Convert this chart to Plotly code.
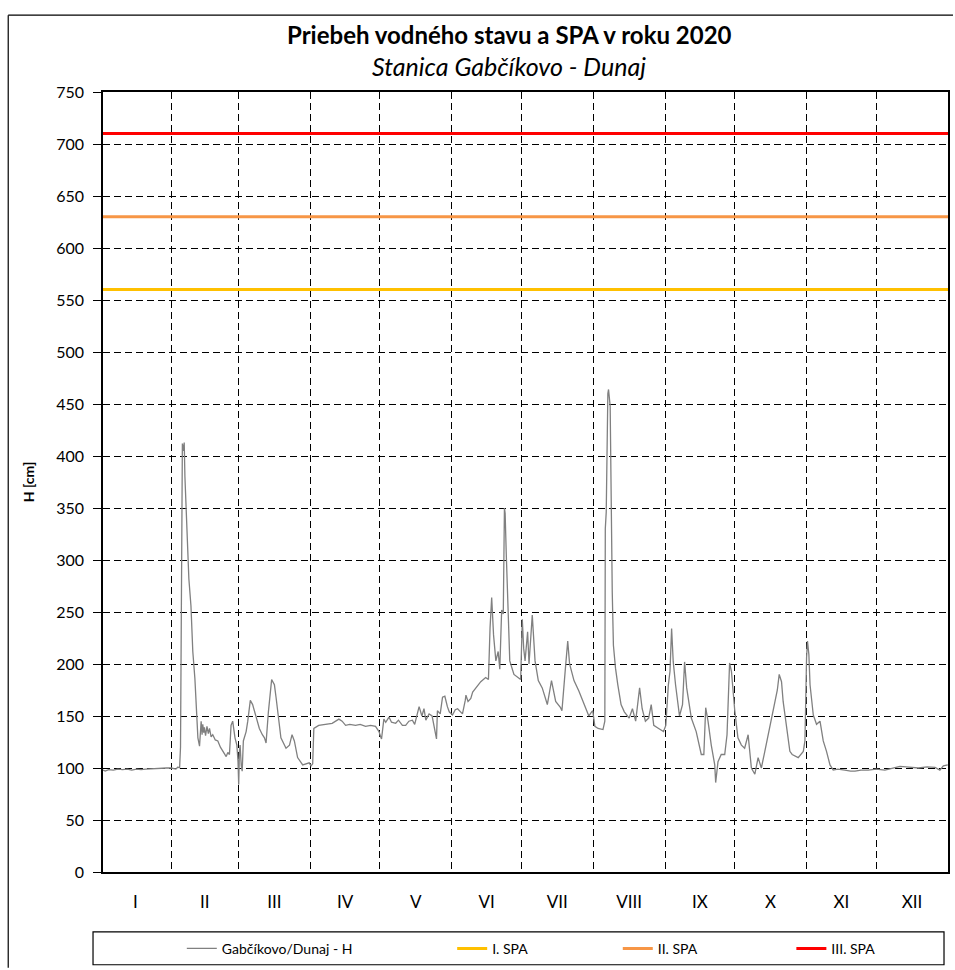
import pandas as pd
import plotly.graph_objects as go

# ---------------- data ----------------
# day offset from 2020-01-01 00:00 (fractional days) and water level H [cm]
h_day = [
    1.6, 2.5, 4, 6, 8, 10, 12, 14, 16, 18, 20, 23, 26, 29, 31, 33, 33.9, 34.6,
    35.0, 35.3, 35.8, 36.2, 36.6, 36.9, 37.2, 37.7, 38.6, 39.5, 40.3, 41.2, 41.8,
    42.5, 43.2, 43.9, 44.3, 44.6, 45.0, 45.3, 45.8, 46.4, 47.0, 47.5, 48.2, 48.9,
    50.0, 51.1, 52.2, 53.2, 54.0, 54.7, 55.4, 56.1, 56.8, 57.5, 58.5, 59.3, 59.8,
    60.1, 60.4, 60.7, 61.2, 61.6, 62.1, 63.3, 64.0, 65.1, 66.1, 67.6, 69.0, 70.3,
    71.2, 71.9, 72.9, 74.3, 75.5, 76.2, 76.9, 78.3, 80.5, 82.0, 83.1, 84.1, 85.5,
    87.7, 90.5, 91.3, 92.0, 92.5, 94.6, 97.0, 100.4, 103.3, 104.7, 106.2, 108.0,
    110.5, 112.5, 114.8, 117.0, 119.1, 120.6, 121.3, 121.7, 122.7, 123.5, 124.9,
    126.0, 127.8, 129.0, 130.7, 132.1, 133.5, 135.0, 136.0, 137.9, 139.1, 140.0,
    140.8, 142.2, 143.5, 145.1, 145.4, 145.8, 147.0, 148.0, 149.0, 150.1, 150.9,
    152.3, 153.5, 154.5, 155.9, 156.6, 157.8, 158.1, 159.0, 160.2, 161.0, 162.3,
    164.5, 166.6, 167.8, 168.5, 169.2, 170.0, 171.0, 172.0, 172.7, 173.5, 174.2,
    174.7, 175.0, 175.5, 176.4, 177.0, 178.8, 181.7, 182.4, 183.0, 183.6, 184.7,
    185.3, 186.7, 187.9, 189.3, 191.0, 193.2, 195.0, 196.8, 198.9, 199.5, 201.0,
    202.0, 202.8, 204.7, 206.8, 209.7, 211.1, 212.3, 212.8, 213.7, 215.1, 217.2,
    218.0, 218.2, 218.6, 219.3, 219.6, 220.3, 220.7, 221.2, 221.7, 222.6, 223.6,
    225.0, 226.4, 228.5, 229.9, 231.3, 233.0, 234.1, 235.5, 236.9, 238.0, 239.1,
    241.2, 243.3, 244.3, 245.4, 246.1, 246.8, 247.5, 248.5, 250.2, 251.5, 252.4,
    253.3, 255.3, 257.4, 259.6, 260.7, 261.5, 262.5, 263.9, 265.4, 265.8, 266.8,
    268.2, 269.7, 270.7, 271.8, 272.6, 274.0, 275.4, 276.9, 278.3, 279.8, 281.2,
    282.7, 284.1, 285.5, 287.0, 288.4, 289.9, 291.3, 292.4, 293.2, 294.2, 294.9,
    296.4, 297.8, 298.8, 301.4, 303.6, 304.3, 305.0, 305.4, 306.0, 306.5, 307.9,
    309.3, 310.8, 312.2, 313.6, 315.1, 316.5, 318.5, 321.5, 324.0, 325.9, 328.5,
    331.6, 335.0, 338.8, 342.0, 345.3, 348.0, 353.2, 357.0, 360.4, 362.5, 364.0,
    365.9,
]
h_val = [
    98, 97, 98.5, 98, 99, 98.5, 99, 98, 99, 98.5, 99, 99.5, 99.5, 100, 100, 99, 101, 100,
    120, 250, 412, 405, 413, 380, 362, 317, 282, 256, 212, 186, 157,
    129, 121, 145, 132, 142, 134, 139, 131, 140, 133, 138, 130, 132,
    127, 126, 120, 116, 113, 111, 115, 113, 141, 145, 129, 122, 106,
    84, 115, 122, 102, 97, 126, 135, 145, 165, 161, 148, 138, 132,
    129, 124, 154, 185, 180, 168, 154, 129, 119, 122, 132, 126, 110,
    103, 105, 102, 104, 138, 141, 142, 143, 147, 145, 141, 142,
    141, 142, 140, 141, 140, 135, 130, 128, 147, 144, 149,
    144, 143, 146, 141, 141, 145, 146, 142, 159, 150, 157,
    146, 152, 150, 131, 128, 155, 152, 168, 169, 159, 154,
    151, 156, 157, 154, 152, 165, 170, 164, 167, 173, 177,
    183, 187, 185, 235, 264, 228, 203, 212, 195, 252, 248,
    350, 345, 305, 231, 203, 190, 185, 243, 215, 203, 231,
    200, 247, 203, 184, 177, 161, 184, 164, 158, 155, 196,
    222, 200, 184, 174, 158, 150, 154, 155, 140, 138, 137,
    145, 330, 346, 460, 464, 448, 349, 269, 218, 196, 180,
    161, 154, 148, 157, 145, 177, 157, 145, 148, 161, 141,
    138, 135, 141, 180, 193, 234, 202, 180, 150, 161, 202,
    177, 148, 135, 113, 113, 158, 145, 122, 103, 86, 106,
    113, 113, 132, 201, 193, 156, 129, 122, 119, 132, 100,
    94, 110, 100, 116, 132, 148, 164, 175, 190, 183, 164,
    138, 116, 113, 110, 116, 126, 206, 222, 209, 180, 151,
    142, 145, 126, 116, 103, 98, 99, 98, 97, 97, 98,
    98, 99, 98, 100, 101.5, 101, 100, 101, 100.6, 98, 102,
    103,
]

spa_names = ["I. SPA", "II. SPA", "III. SPA"]
spa_levels = [560, 630, 710]
spa_colors = ["#FFC000", "#F79646", "#FF0000"]

month_labels = ["I", "II", "III", "IV", "V", "VI", "VII", "VIII", "IX", "X", "XI", "XII"]
series_name = "Gabčíkovo/Dunaj - H"

# ---------------- build ----------------
start = pd.Timestamp("2020-01-01")
end = pd.Timestamp("2021-01-01")
h_time = [start + pd.Timedelta(days=d) for d in h_day]
month_starts = pd.date_range(start, end, freq="MS")
month_mids = [month_starts[i] + (month_starts[i + 1] - month_starts[i]) / 2 for i in range(12)]
x_range = [start + pd.Timedelta(days=1.57), end]

FONT = "Lato, 'Liberation Sans', Arial, sans-serif"

fig = go.Figure()
fig.add_trace(go.Scatter(
    x=h_time, y=h_val, mode="lines", name=series_name,
    line=dict(color="#808080", width=1.3), legend="legend", showlegend=True,
))
legend_ids = ["legend2", "legend3", "legend4"]
for name, lvl, col, lg in zip(spa_names, spa_levels, spa_colors, legend_ids):
    fig.add_trace(go.Scatter(
        x=[start, end], y=[lvl, lvl], mode="lines", name=name,
        line=dict(color=col, width=3), legend=lg, showlegend=True,
    ))

W, H = 955, 970
ML, MR, MT, MB = 103, 5, 92, 96
pw, ph = W - ML - MR, H - MT - MB


def px(xp):
    return (xp - ML) / pw


def py(yp):
    return (H - MB - yp) / ph


leg_common = dict(orientation="h", bgcolor="rgba(0,0,0,0)", borderwidth=0,
                  font=dict(family=FONT, size=14, color="#000"),
                  xanchor="left", yanchor="middle", y=py(951), itemwidth=30)

fig.update_layout(
    width=W, height=H,
    showlegend=True,
    margin=dict(l=ML, r=MR, t=MT, b=MB),
    paper_bgcolor="white", plot_bgcolor="white",
    font=dict(family=FONT, color="#000"),
    legend=dict(**leg_common, x=px(182)),
    legend2=dict(**leg_common, x=px(453)),
    legend3=dict(**leg_common, x=px(619)),
    legend4=dict(**leg_common, x=px(793)),
    xaxis=dict(
        type="date", range=x_range,
        tickmode="array", tickvals=month_mids, ticktext=month_labels,
        ticks="", ticklabelstandoff=14,
        tickfont=dict(family=FONT, size=17, color="#000"),
        showgrid=False,
        minor=dict(tickmode="array", tickvals=list(month_starts), showgrid=True,
                   gridcolor="#000", gridwidth=1.2, griddash="7px,4px", ticks=""),
        showline=True, linecolor="#000", linewidth=1.5, mirror=True,
        zeroline=False,
    ),
    yaxis=dict(
        range=[0, 750], tickvals=list(range(0, 751, 50)),
        showgrid=True, gridcolor="#000", gridwidth=1.2, griddash="7px,4px",
        showline=True, linecolor="#000", linewidth=1.5, mirror=True,
        ticks="outside", ticklen=8, tickcolor="#000", tickwidth=1.2,
        ticklabelstandoff=6,
        tickfont=dict(family=FONT, size=16, color="#000"),
        zeroline=False,
        title=dict(text="<b>H [cm]</b>", font=dict(family=FONT, size=14, color="#000"), standoff=18),
    ),
    annotations=[
        dict(text="<b>Priebeh vodného stavu a SPA v roku 2020</b>", xref="paper", yref="paper",
             x=px(510), y=py(34), xanchor="center", yanchor="middle", showarrow=False,
             font=dict(family=FONT, size=24, color="#000")),
        dict(text="<i>Stanica Gabčíkovo - Dunaj</i>", xref="paper", yref="paper",
             x=px(510), y=py(66), xanchor="center", yanchor="middle", showarrow=False,
             font=dict(family=FONT, size=25, color="#000")),
    ],
    shapes=[
        # legend box
        dict(type="rect", xref="paper", yref="paper", x0=px(93), x1=px(946), y0=py(934), y1=py(967),
             line=dict(color="#000", width=1.2), fillcolor="rgba(0,0,0,0)", layer="above"),
        # outer chart frame (left and top edges)
        dict(type="line", xref="paper", yref="paper", x0=px(8), x1=px(8), y0=py(15), y1=py(970),
             line=dict(color="#000", width=1.2)),
        dict(type="line", xref="paper", yref="paper", x0=px(8), x1=px(955), y0=py(15), y1=py(15),
             line=dict(color="#000", width=1.2)),
    ],
)

fig.write_html(
    "out.html",
    config={"displayModeBar": False},
    post_script="document.body.style.margin='0';document.body.style.overflow='hidden';",
)
